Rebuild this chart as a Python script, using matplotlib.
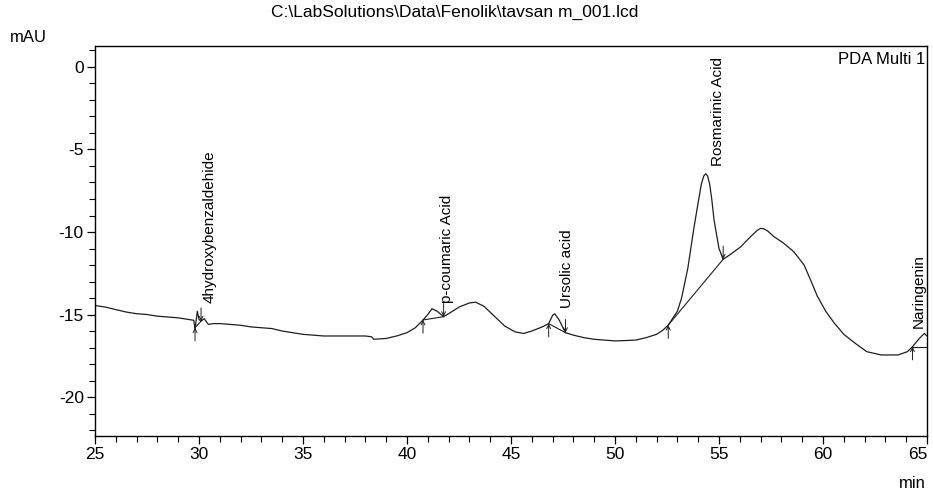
import matplotlib

matplotlib.use('Agg')

import matplotlib.pyplot as plt
from matplotlib.ticker import MultipleLocator

plt.rcParams['font.family'] = ['Liberation Sans', 'DejaVu Sans']
plt.rcParams['axes.unicode_minus'] = False

# chromatogram trace: retention time (min), signal (mAU)
time_min = [25.0, 25.5, 26.0, 26.5, 27.0, 27.5, 28.0, 28.5, 29.0, 29.5,
            29.75, 29.81, 29.92, 30.0, 30.1, 30.25, 30.45, 30.7, 31.0, 31.5,
            32.0, 32.5, 33.0, 33.5, 34.0, 34.5, 35.0, 35.5, 36.0, 37.0,
            38.0, 38.3, 38.4, 39.0, 39.5, 40.0, 40.4, 40.77, 41.0, 41.2,
            41.45, 41.76, 42.0, 42.5, 43.0, 43.3, 43.7, 44.2, 44.7, 45.2,
            45.6, 46.0, 46.5, 46.81, 47.0, 47.1, 47.3, 47.62, 48.0, 48.5,
            49.0, 50.0, 51.0, 51.5, 52.0, 52.3, 52.56, 53.0, 53.2, 53.5,
            53.8, 54.0, 54.15, 54.27, 54.36, 54.45, 54.55, 54.65, 54.76, 55.0,
            55.2, 55.5, 56.04, 56.52, 56.84, 57.0, 57.15, 57.35, 57.64, 58.12,
            58.6, 59.09, 59.4, 59.73, 60.13, 60.53, 61.0, 61.5, 62.1, 62.8,
            63.6, 64.06, 64.3, 64.63, 64.87, 65.0]
signal_mau = [-14.45, -14.55, -14.7, -14.85, -14.95, -15.0, -15.1, -15.15, -15.2, -15.3,
              -15.35, -15.9, -14.8, -15.3, -15.4, -15.25, -15.6, -15.55, -15.55, -15.6,
              -15.65, -15.75, -15.8, -15.85, -16.0, -16.1, -16.2, -16.25, -16.3, -16.3,
              -16.3, -16.35, -16.5, -16.45, -16.3, -16.1, -15.8, -15.33, -15.0, -14.65,
              -14.8, -15.13, -14.95, -14.55, -14.3, -14.25, -14.5, -15.1, -15.7, -16.05,
              -16.15, -16.0, -15.75, -15.55, -15.05, -14.95, -15.3, -16.1, -16.25, -16.4,
              -16.5, -16.6, -16.55, -16.4, -16.2, -15.95, -15.64, -14.8, -14.0, -12.2,
              -9.7, -8.2, -7.1, -6.6, -6.47, -6.6, -7.1, -8.0, -9.27, -11.0,
              -11.65, -11.4, -10.9, -10.28, -9.9, -9.78, -9.8, -9.95, -10.28, -10.69,
              -11.2, -12.0, -12.9, -13.9, -14.8, -15.5, -16.2, -16.7, -17.25, -17.45,
              -17.45, -17.25, -16.95, -16.45, -16.15, -16.3]

# integrated peaks: name, baseline start/end, label anchor
peak_names = ['4hydroxybenzaldehide', 'p-coumaric Acid', 'Ursolic acid',
              'Rosmarinic Acid', 'Naringenin']
start_t = [29.81, 40.77, 46.81, 52.56, 64.3]
start_y = [-15.8, -15.33, -15.55, -15.64, -16.95]
end_t = [30.1, 41.76, 47.62, 55.2, 65.0]
end_y = [-15.4, -15.13, -16.1, -11.65, -16.95]
end_arrow = [True, True, True, True, False]
label_t = [30.49, 41.94, 47.67, 54.93, 64.6]
label_y = [-14.3, -14.3, -14.6, -6.0, -15.8]

x_ticks = [25, 30, 35, 40, 45, 50, 55, 60, 65]


def main():
    fig = plt.figure(figsize=(9.33, 5.0), dpi=100)
    ax = fig.add_axes([0.1018, 0.128, 0.8918, 0.780])

    ax.plot(time_min, signal_mau, color='#1e1e1e', lw=0.9)

    arrow = dict(arrowstyle='->', color='#1e1e1e', lw=0.7, mutation_scale=7,
                 shrinkA=0, shrinkB=0)
    for i, name in enumerate(peak_names):
        ax.plot([start_t[i], end_t[i]], [start_y[i], end_y[i]],
                color='#1e1e1e', lw=0.8)
        ax.annotate('', xy=(start_t[i], start_y[i]),
                    xytext=(start_t[i], start_y[i] - 0.8), arrowprops=arrow)
        if end_arrow[i]:
            ax.annotate('', xy=(end_t[i], end_y[i]),
                        xytext=(end_t[i], end_y[i] + 0.8), arrowprops=arrow)
        ax.text(label_t[i], label_y[i], name, rotation=90, ha='center',
                va='bottom', fontsize=11)

    ax.set_xlim(25, 65)
    ax.set_ylim(-22.36, 1.27)
    ax.set_xticks(x_ticks)
    ax.xaxis.set_minor_locator(MultipleLocator(1))
    ax.yaxis.set_major_locator(MultipleLocator(5))
    ax.yaxis.set_minor_locator(MultipleLocator(1))
    ax.tick_params(which='major', direction='out', length=6, width=0.9,
                   labelsize=12.5, pad=2)
    ax.tick_params(which='minor', direction='out', length=4, width=0.8)
    # last time label sits flush with the right edge, as in LabSolutions
    ax.get_xticklabels()[-1].set_horizontalalignment('right')
    for side in ax.spines.values():
        side.set_linewidth(1.0)

    ax.text(0.998, 0.985, 'PDA Multi 1', transform=ax.transAxes, ha='right',
            va='top', fontsize=12)
    fig.text(455 / 933, 1 - 12 / 500, r'C:\LabSolutions\Data\Fenolik\tavsan m_001.lcd',
             ha='center', va='center', fontsize=12.5)
    fig.text(10 / 933, 1 - 37 / 500, 'mAU', ha='left', va='center', fontsize=12)
    fig.text(926 / 933, 1 - 483 / 500, 'min', ha='right', va='center', fontsize=12)

    fig.savefig('out.png', dpi=100)
    plt.close(fig)


if __name__ == '__main__':
    main()
